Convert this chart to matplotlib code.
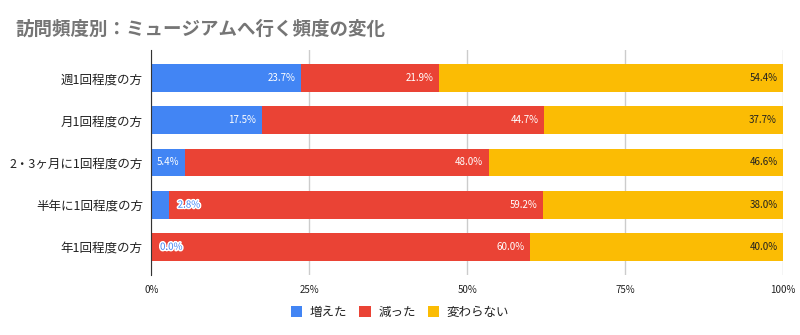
import matplotlib.pyplot as plt
import matplotlib.patheffects as pe

plt.rcParams['font.family'] = ['Noto Sans CJK JP', 'DejaVu Sans']

categories = ['週1回程度の方', '月1回程度の方', '2・3ヶ月に1回程度の方', '半年に1回程度の方', '年1回程度の方']
series_names = ['増えた', '減った', '変わらない']
increased = [23.7, 17.5, 5.4, 2.8, 0.0]
decreased = [21.9, 44.7, 48.0, 59.2, 60.0]
unchanged = [54.4, 37.7, 46.6, 38.0, 40.0]
colors = ['#4285F4', '#EA4335', '#FBBC04']
ticks = [0, 25, 50, 75, 100]
tick_labels = ['0%', '25%', '50%', '75%', '100%']

fig = plt.figure(figsize=(8, 3.35), dpi=100, facecolor='white')
ax = fig.add_axes([0.189, 0.179, 0.79, 0.672])

ypos = list(range(len(categories)))
left = [0.0] * len(categories)
for name, vals, col in zip(series_names, [increased, decreased, unchanged], colors):
    ax.barh(ypos, vals, left=left, height=0.66, color=col, label=name, zorder=2)
    for i, v in enumerate(vals):
        end = left[i] + v
        txt = '%.1f%%' % v
        if v < 4:
            # too small to fit inside: put it just right of the segment
            ax.text(end + 1.4, i, txt, ha='left', va='center', fontsize=7,
                    color=col, zorder=4,
                    path_effects=[pe.withStroke(linewidth=2.2, foreground='white')])
        else:
            tc = '#212121' if col == '#FBBC04' else 'white'
            ax.text(end - 0.9, i, txt, ha='right', va='center', fontsize=7,
                    color=tc, zorder=4)
    left = [l + v for l, v in zip(left, vals)]

ax.set_xlim(0, 100)
ax.set_ylim(4.67, -0.67)
ax.set_yticks(ypos)
ax.set_yticklabels(categories, fontsize=9, color='#222222')
ax.set_xticks(ticks)
ax.set_xticklabels(tick_labels, fontsize=7, color='#222222')
ax.tick_params(axis='both', length=0, pad=6)
ax.tick_params(axis='x', pad=7)
ax.grid(axis='x', color='#CCCCCC', linewidth=1, zorder=0)
for s in ['top', 'right', 'bottom']:
    ax.spines[s].set_visible(False)
ax.spines['left'].set_color('#333333')
ax.spines['left'].set_zorder(3)

fig.text(0.019, 0.913, '訪問頻度別：ミュージアムへ行く頻度の変化', fontsize=13.3,
         fontweight='bold', color='#757575', ha='left', va='center')

fig.legend(loc='center', bbox_to_anchor=(0.5, 0.068), ncol=3, frameon=False,
           fontsize=9, handlelength=0.9, handleheight=0.9, handletextpad=0.6,
           columnspacing=1.0, labelcolor='#222222')

fig.savefig('out.png', dpi=100, facecolor='white')
